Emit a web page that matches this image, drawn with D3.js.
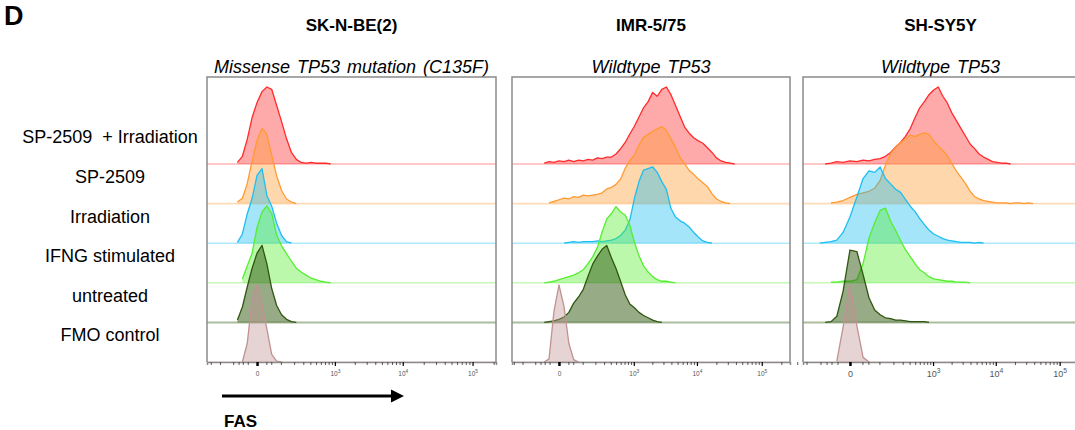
<!DOCTYPE html>
<html>
<head>
<meta charset="utf-8">
<script src="https://cdn.jsdelivr.net/npm/d3@7"></script>
<style>
  body { margin: 0; background: #fff; }
  text { font-family: "Liberation Sans", Arial, sans-serif; }
</style>
</head>
<body>
<div id="chart"></div>
<script>
// conditions, top row to bottom row
const conditions = ["SP-2509  + Irradiation", "SP-2509", "Irradiation", "IFNG stimulated", "untreated", "FMO control"];
const cellLines = ["SK-N-BE(2)", "IMR-5/75", "SH-SY5Y"];
const subtitles = ["Missense TP53 mutation (C135F)", "Wildtype TP53", "Wildtype TP53"];
const colors = ["#ff2b2b", "#ff9a33", "#1cbff0", "#55ee30", "#2f5710", "#c09292"];

// FAS intensity at each histogram bin centre
const fasBins = [-337, -274, -221, -176, -137, -104, -76, -52, -32, -15, 0, 15, 32, 52, 76, 104, 137, 176, 221, 274,
    337, 411, 497, 599, 718, 858, 1023, 1217, 1445, 1712, 2026, 2395, 2828, 3338, 3936, 4640, 5466, 6436, 7577, 8917,
    10492, 12340, 14515, 17070, 20068, 23590, 27730, 32590, 38310, 45030, 52920, 62190, 73080, 85850, 100900, 118600];

// major ticks and their labels
const majorTicks = [0, 1000, 10000, 100000];
const majorLabels = [["0", ""], ["10", "3"], ["10", "4"], ["10", "5"]];
const minorTicks = [-300, -200, -100, -70, -50, -30, 30, 50, 100, 200, 300, 400, 500, 600, 700, 800, 900,
    2000, 3000, 4000, 5000, 6000, 7000, 8000, 9000, 20000, 30000, 40000, 50000, 60000, 70000, 80000, 90000, 200000];

// % of mode per bin, each series starts at bin index "from"
const sknbe2 = [
    { from: 6, counts: [2, 10, 32, 60, 80, 94, 100, 97, 76, 55, 33, 15, 6, 2, 1, 2, 1, 1, 1, 0] },
    { from: 6, counts: [2, 7, 26, 55, 82, 98, 90, 63, 36, 17, 6, 2, 0] },
    { from: 6, counts: [1, 12, 38, 58, 88, 97, 62, 48, 26, 10, 2, 0] },
    { from: 7, counts: [5, 22, 38, 72, 92, 100, 90, 62, 48, 38, 28, 19, 14, 10, 6, 4, 2, 1, 0] },
    { from: 6, counts: [3, 20, 46, 70, 90, 100, 76, 44, 22, 10, 4, 1, 0] },
    { from: 7, counts: [0, 24, 80, 100, 75, 43, 10, 1, 0] }
];
const imr575 = [
    { from: 7, counts: [1, 3, 2, 4, 3, 5, 3, 5, 4, 6, 5, 8, 7, 9, 9, 13, 20, 28, 39, 49, 61, 73, 81, 93, 88, 97, 100, 90, 76, 62, 48, 40, 34, 30, 27, 21, 15, 8, 4, 2, 1, 0] },
    { from: 8, counts: [1, 3, 5, 7, 6, 9, 8, 11, 10, 11, 12, 14, 19, 21, 25, 32, 46, 56, 63, 76, 86, 90, 94, 97, 100, 95, 84, 73, 60, 52, 43, 38, 32, 27, 22, 13, 6, 3, 1, 0] },
    { from: 11, counts: [0, 1, 2, 1, 2, 2, 2, 3, 2, 3, 4, 6, 10, 17, 30, 58, 80, 95, 97, 99, 92, 80, 70, 45, 34, 29, 26, 21, 14, 8, 3, 1, 0] },
    { from: 7, counts: [0, 1, 2, 4, 6, 8, 10, 13, 17, 25, 34, 46, 66, 83, 90, 99, 92, 88, 75, 53, 35, 22, 14, 8, 4, 2, 2, 1, 0] },
    { from: 7, counts: [0, 1, 2, 4, 7, 13, 25, 33, 43, 60, 76, 86, 95, 100, 84, 70, 53, 36, 24, 19, 13, 9, 6, 3, 1, 0] },
    { from: 7, counts: [0, 4, 65, 100, 72, 24, 3, 0] }
];
const shsy5y = [
    { from: 6, counts: [0, 1, 3, 2, 4, 3, 5, 4, 6, 7, 10, 15, 22, 28, 36, 46, 60, 73, 81, 90, 96, 100, 88, 79, 66, 56, 46, 36, 26, 20, 13, 9, 6, 3, 2, 1, 1, 0] },
    { from: 7, counts: [1, 2, 4, 8, 12, 14, 16, 20, 30, 50, 65, 73, 79, 84, 89, 87, 90, 92, 90, 81, 75, 69, 62, 52, 42, 34, 26, 16, 9, 6, 4, 3, 2, 1, 1, 1, 0, 1, 1, 0, 1, 0] },
    { from: 5, counts: [0, 1, 2, 4, 14, 34, 60, 84, 94, 92, 99, 84, 77, 70, 66, 57, 48, 41, 32, 24, 17, 12, 9, 6, 4, 3, 2, 1, 1, 1, 0, 1, 0] },
    { from: 7, counts: [1, 1, 2, 2, 4, 25, 58, 78, 94, 97, 80, 68, 55, 43, 34, 25, 17, 13, 8, 5, 4, 3, 2, 2, 1, 1, 1, 0] },
    { from: 6, counts: [0, 1, 8, 40, 94, 92, 62, 32, 16, 10, 6, 5, 3, 3, 2, 1, 1, 1, 1, 0] },
    { from: 8, counts: [1, 45, 100, 47, 6, 0] }
];

const width = 1075, height = 430;
const plotTop = 77, plotBottom = 362;

// each panel has its own biexponential-like display
const panels = [
    { data: sknbe2, left: 207, right: 496, c: 84, domain: [-351, 216000], label: 6.5, box: true },
    { data: imr575, left: 512, right: 790, c: 76, domain: [-325, 272000], label: 6.5, box: true },
    { data: shsy5y, left: 803, right: 1078, c: 53, domain: [-234, 193500], label: 9, box: false }
];

const svg = d3.select("#chart")
    .append("svg")
    .attr("width", width)
    .attr("height", height);

const row = d3.scalePoint().domain(conditions).range([164, plotBottom]);
const yh = d3.scaleLinear().domain([0, 100]).range([0, 77]);

svg.append("text")
    .attr("x", 4).attr("y", 25)
    .attr("font-size", 27).attr("font-weight", "bold")
    .text("D");

// row labels
svg.selectAll(".rowlab")
    .data(conditions)
    .enter()
    .append("text")
    .attr("class", "rowlab")
    .attr("x", 110)
    .attr("y", d => row(d) - 27)
    .attr("dy", "0.35em")
    .attr("text-anchor", "middle")
    .attr("font-size", 18)
    .style("white-space", "pre")
    .text(d => d);

panels.forEach((p, pi) => {
    const x = d3.scaleSymlog().constant(p.c).domain(p.domain).range([p.left, p.right]);
    const cx = (p.left + p.right) / 2;
    const g = svg.append("g");

    g.append("text")
        .attr("x", cx).attr("y", 31)
        .attr("text-anchor", "middle")
        .attr("font-size", 17).attr("font-weight", "bold")
        .text(cellLines[pi]);
    g.append("text")
        .attr("x", cx).attr("y", 73)
        .attr("text-anchor", "middle")
        .attr("font-size", 18).attr("font-style", "italic")
        .attr("word-spacing", 2)
        .text(subtitles[pi]);

    const clipId = "clip" + pi;
    svg.append("clipPath").attr("id", clipId)
        .append("rect")
        .attr("x", p.left).attr("y", plotTop)
        .attr("width", p.right - p.left).attr("height", plotBottom - plotTop);

    const plot = g.append("g").attr("clip-path", `url(#${clipId})`);

    p.data.forEach((s, si) => {
        const base = row(conditions[si]);
        const pts = s.counts.map((v, k) => [fasBins[s.from + k], v]);
        const col = colors[si];

        plot.append("line")
            .attr("x1", p.left).attr("x2", p.right)
            .attr("y1", base).attr("y2", base)
            .attr("stroke", col).attr("stroke-opacity", si === 4 ? 0.4 : 0.35)
            .attr("stroke-width", si === 4 ? 2 : 1.6);

        plot.append("path")
            .datum(pts)
            .attr("d", d3.area()
                .x(d => x(d[0]))
                .y0(base)
                .y1(d => base - yh(d[1])))
            .attr("fill", col)
            .attr("fill-opacity", si === 4 ? 0.5 : 0.4);

        plot.append("path")
            .datum(pts)
            .attr("d", d3.line()
                .x(d => x(d[0]))
                .y(d => base - yh(d[1])))
            .attr("fill", "none")
            .attr("stroke", col)
            .attr("stroke-width", 1.3)
            .attr("stroke-linejoin", "round");
    });

    // panel frame
    g.append("path")
        .attr("d", p.box
            ? `M${p.left},${plotBottom}V${plotTop}H${p.right}V${plotBottom}`
            : `M${p.left},${plotBottom}V${plotTop}H${p.right}`)
        .attr("fill", "none")
        .attr("stroke", "#8a8a8a")
        .attr("stroke-width", 1.5);

    // axes
    const minorAxis = g.append("g")
        .attr("transform", `translate(0,${plotBottom})`)
        .call(d3.axisBottom(x).tickValues(minorTicks).tickSize(3).tickFormat(""));
    minorAxis.select(".domain").attr("stroke", "#8a8a8a").attr("stroke-width", 1.5);
    minorAxis.selectAll(".tick line").attr("stroke", "#333").attr("stroke-width", 0.8);

    const majorAxis = g.append("g")
        .attr("transform", `translate(0,${plotBottom})`)
        .call(d3.axisBottom(x).tickValues(majorTicks).tickSize(4).tickPadding(3).tickFormat(""));
    majorAxis.select(".domain").remove();
    majorAxis.selectAll(".tick line")
        .attr("stroke", "#000")
        .attr("stroke-width", (d, i) => i === 0 ? 2.5 : 1.2);
    majorAxis.selectAll(".tick")
        .append("text")
        .attr("y", 9)
        .attr("dy", "0.71em")
        .attr("fill", "#555")
        .attr("font-size", p.label)
        .attr("text-anchor", "middle")
        .each(function (d, i) {
            const t = d3.select(this);
            t.append("tspan").text(majorLabels[i][0]);
            if (majorLabels[i][1]) {
                t.append("tspan")
                    .attr("dy", -p.label * 0.45)
                    .attr("font-size", p.label * 0.75)
                    .text(majorLabels[i][1]);
            }
        });
});

// FAS arrow
svg.append("defs").append("marker")
    .attr("id", "arrow")
    .attr("viewBox", "0 0 10 10")
    .attr("refX", 0).attr("refY", 5)
    .attr("markerWidth", 4.4).attr("markerHeight", 4.4)
    .attr("orient", "auto")
    .append("path")
    .attr("d", "M0,0L10,5L0,10Z");

svg.append("line")
    .attr("x1", 222).attr("x2", 391)
    .attr("y1", 396).attr("y2", 396)
    .attr("stroke", "#000").attr("stroke-width", 3)
    .attr("marker-end", "url(#arrow)");

svg.append("text")
    .attr("x", 224).attr("y", 427)
    .attr("font-size", 17).attr("font-weight", "bold")
    .text("FAS");
</script>
</body>
</html>
